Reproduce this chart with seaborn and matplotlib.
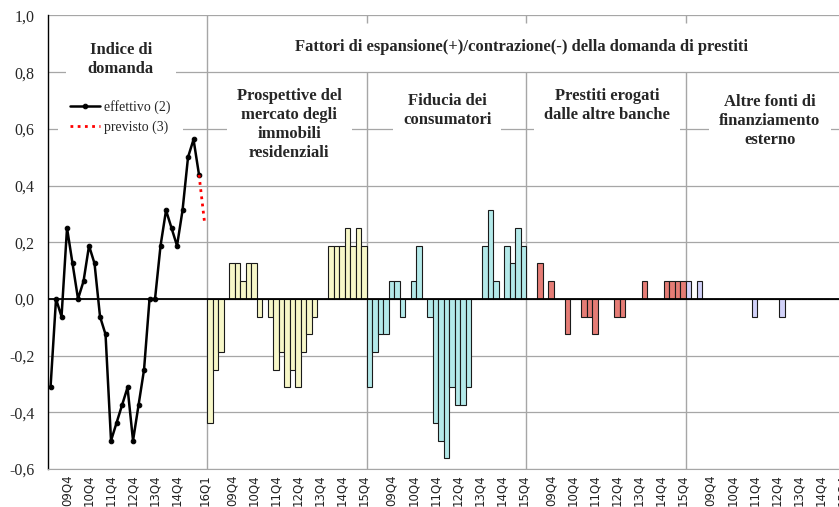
import numpy as np
import pandas as pd
import matplotlib
matplotlib.use('Agg')
import matplotlib.pyplot as plt
import seaborn as sns
from matplotlib.ticker import FuncFormatter

# Indice di domanda (09Q1-15Q4) and the forecast step to 16Q1
effettivo = [-0.3125, 0, -0.0625, 0.25, 0.125, 0, 0.0625, 0.1875, 0.125, -0.0625,
             -0.125, -0.5, -0.4375, -0.375, -0.3125, -0.5, -0.375, -0.25, 0, 0,
             0.1875, 0.3125, 0.25, 0.1875, 0.3125, 0.5, 0.5625, 0.4375]
previsto = [0.4375, 0.27]

# Fattori di espansione/contrazione, one value per quarter in each panel
prospettive = [-0.4375, -0.25, -0.1875, 0, 0.125, 0.125, 0.0625, 0.125, 0.125, -0.0625,
               0, -0.0625, -0.25, -0.1875, -0.3125, -0.25, -0.3125, -0.1875, -0.125, -0.0625,
               0, 0, 0.1875, 0.1875, 0.1875, 0.25, 0.1875, 0.25, 0.1875]
fiducia = [-0.3125, -0.1875, -0.125, -0.125, 0.0625, 0.0625, -0.0625, 0, 0.0625, 0.1875,
           0, -0.0625, -0.4375, -0.5, -0.5625, -0.3125, -0.375, -0.375, -0.3125, 0,
           0, 0.1875, 0.3125, 0.0625, 0, 0.1875, 0.125, 0.25, 0.1875]
altre_banche = [0, 0, 0.125, 0, 0.0625, 0, 0, -0.125, 0, 0,
                -0.0625, -0.0625, -0.125, 0, 0, 0, -0.0625, -0.0625, 0, 0,
                0, 0.0625, 0, 0, 0, 0.0625, 0.0625, 0.0625, 0.0625]
altre_fonti = [0.0625, 0, 0.0625, 0, 0, 0, 0, 0, 0, 0,
               0, 0, -0.0625, 0, 0, 0, 0, -0.0625, 0, 0,
               0, 0, 0, 0, 0, 0, 0, 0, 0]

labels_indice = ['09Q4', '10Q4', '11Q4', '12Q4', '13Q4', '14Q4', '16Q1']
labels_fattori = ['09Q4', '10Q4', '11Q4', '12Q4', '13Q4', '14Q4', '15Q4']

fattori = {'prospettive': prospettive, 'fiducia': fiducia,
           'altre_banche': altre_banche, 'altre_fonti': altre_fonti}
colori = {'prospettive': '#FFFFC0', 'fiducia': '#AAF2F2',
          'altre_banche': '#F86B62', 'altre_fonti': '#CCCCFF'}

testi = {'prospettive': 'Prospettive del\nmercato degli\nimmobili\nresidenziali',
         'fiducia': 'Fiducia dei\nconsumatori',
         'altre_banche': 'Prestiti erogati\ndalle altre banche',
         'altre_fonti': 'Altre fonti di\nfinanziamento\nesterno'}

n = 29  # quarters per panel

# one long table for the bars, each panel shifted by n categories
frames = []
for k, (nome, valori) in enumerate(fattori.items()):
    frames.append(pd.DataFrame({'pos': np.arange(len(valori)) + (k + 1) * n,
                                'valore': valori, 'fattore': nome}))
df = pd.concat(frames, ignore_index=True)

sns.set_style('white')
plt.rcParams['font.family'] = ['Liberation Serif', 'DejaVu Serif']

fig = plt.figure(figsize=(8.39, 5.07), dpi=100)
ax = fig.add_axes([0.0576, 0.075, 0.9532, 0.8945])

sns.barplot(data=df, x='pos', y='valore', hue='fattore', palette=colori,
            native_scale=True, width=1, errorbar=None, legend=False,
            edgecolor='#1a1a1a', linewidth=0.8, zorder=3, ax=ax)

x_ind = np.arange(len(effettivo))
sns.lineplot(x=x_ind, y=effettivo, color='black', lw=1.8, marker='o', markersize=3.3,
             markeredgecolor='black', label='effettivo (2)', zorder=5, ax=ax)
sns.lineplot(x=[len(effettivo) - 1, len(effettivo)], y=previsto, color='red', lw=2,
             linestyle=(0, (1, 1.6)), label='previsto (3)', zorder=5, ax=ax)

ax.set_xlim(-0.4, 145)
ax.set_ylim(-0.6, 1.0)
ax.set_xlabel('')
ax.set_ylabel('')

# y axis: comma decimals
ax.set_yticks(np.linspace(-0.6, 1.0, 9))
ax.yaxis.set_major_formatter(FuncFormatter(lambda v, p: f'{round(v, 1):.1f}'.replace('.', ',')))
ax.tick_params(axis='y', direction='out', length=5, width=1, color='black',
               labelsize=11.5, pad=5)
ax.yaxis.grid(True, color='#a6a6a6', lw=0.9, zorder=0)
ax.axhline(0, color='black', lw=1.3, zorder=4)

# x axis: every fourth quarter
ticks = [3, 7, 11, 15, 19, 23, 28]
ticklabels = list(labels_indice)
for k in range(1, 5):
    ticks += [k * n + i for i in range(4, n, 4)]
    ticklabels += labels_fattori
ax.set_xticks(ticks)
ax.set_xticklabels(ticklabels, rotation=90, fontsize=8.5, family='DejaVu Sans', va='top',
                   color='#222222')
ax.tick_params(axis='x', length=0, pad=4)

for s in ['top', 'right']:
    ax.spines[s].set_visible(False)
ax.spines['left'].set_color('black')
ax.spines['left'].set_linewidth(1)
ax.spines['bottom'].set_color('#a6a6a6')

# panel separators
ax.vlines([n - 0.5], -0.6, 1.0, color='#a6a6a6', lw=1, zorder=1)
ax.vlines([k * n - 0.5 for k in range(2, 5)], -0.6, 0.8, color='#a6a6a6', lw=1, zorder=1)
ax.vlines([k * n - 0.5 for k in range(2, 5)], 0.975, 1.0, color='#a6a6a6', lw=1, zorder=1)

box = dict(facecolor='white', edgecolor='none', boxstyle='square,pad=0.6')
ax.text(12.8, 0.845, 'Indice di\ndomanda', ha='center', va='center', fontsize=12,
        fontweight='bold', linespacing=1.25,
        bbox=dict(facecolor='white', edgecolor='none', boxstyle='square,pad=1.3'), zorder=6)
ax.text(85.7, 0.887, 'Fattori di espansione(+)/contrazione(-) della domanda di prestiti',
        ha='center', va='center', fontsize=12, fontweight='bold', zorder=6)
centri = {'prospettive': 43.4, 'fiducia': 72.1, 'altre_banche': 101.2, 'altre_fonti': 130.8}
cime = {'prospettive': 0.745, 'fiducia': 0.728, 'altre_banche': 0.745, 'altre_fonti': 0.722}
for nome in fattori:
    ax.text(centri[nome], cime[nome], testi[nome], ha='center', va='top', fontsize=12,
            fontweight='bold', linespacing=1.25, bbox=box, zorder=6)

ax.legend(loc='upper left', bbox_to_anchor=(0.012, 0.84), frameon=True, facecolor='white',
          edgecolor='none', framealpha=1, fontsize=10, handlelength=2.1, handletextpad=0.3,
          labelspacing=0.45, borderpad=0.9, borderaxespad=0, numpoints=1, fancybox=False)

fig.savefig('out.png', dpi=100)
